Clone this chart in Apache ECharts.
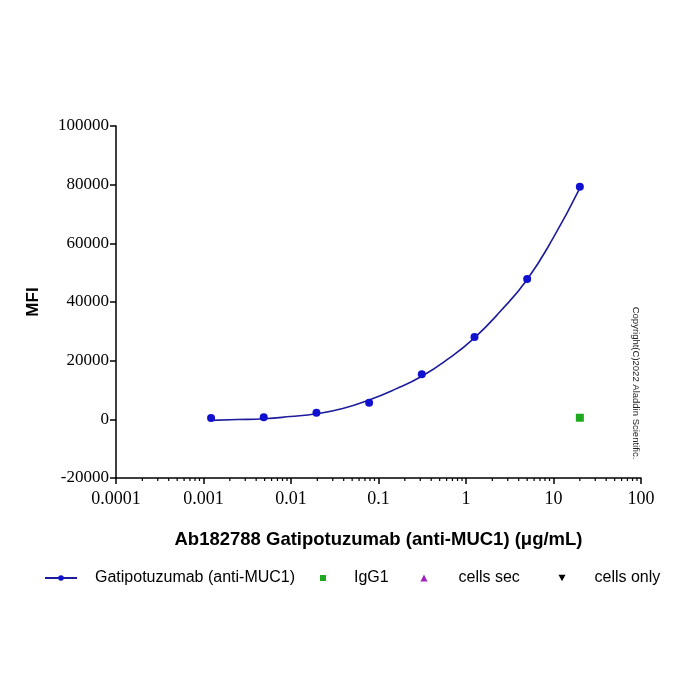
<!DOCTYPE html>
<html>
<head>
    <meta charset="UTF-8">
    <title>MFI binding curve</title>
    <script src="https://cdn.jsdelivr.net/npm/echarts@6/dist/echarts.min.js"></script>
    <style>
        html, body { margin: 0; padding: 0; background: #fff; }
    </style>
</head>
<body>
    <div id="main" style="width:700px;height:700px;"></div>
    <script type="text/javascript">
        // concentrations (ug/mL), 4-fold dilutions
        var conc = [0.00122, 0.00488, 0.01953, 0.07813, 0.3125, 1.25, 5, 20];
        // measured MFI
        var mfi = [450, 700, 2250, 5650, 15350, 28050, 47850, 79300];
        // fitted curve
        var fitX = [0.00122, 0.00244, 0.00488, 0.00977, 0.0195, 0.039, 0.078, 0.156, 0.3125, 0.625, 1.25, 2.5, 5, 10, 20];
        var fitY = [-350, -80, 200, 950, 1900, 3700, 6600, 10300, 14700, 20600, 27800, 37000, 47700, 62000, 78800];
        // control
        var igg1X = [20];
        var igg1Y = [550];
        var yTicks = [-20000, 0, 20000, 40000, 60000, 80000, 100000];

        // minor ticks for the log axis (2..9 in each decade)
        var minorTicks = [];
        for (var d = -4; d < 2; d++) {
            for (var m = 2; m < 10; m++) {
                minorTicks.push(m * Math.pow(10, d));
            }
        }

        function pairs(xs, ys) {
            var out = [];
            for (var i = 0; i < xs.length; i++) out.push([xs[i], ys[i]]);
            return out;
        }

        var legendText = { fontFamily: 'Liberation Sans', fontSize: 16, color: '#000' };

        var myChart = echarts.init(document.getElementById('main'));

        myChart.setOption({
            animation: false,
            backgroundColor: '#fff',
            grid: {
                left: 116,
                right: 59,
                top: 126,
                bottom: 222
            },
            xAxis: {
                type: 'log',
                logBase: 10,
                min: 0.0001,
                max: 100,
                name: 'Ab182788 Gatipotuzumab (anti-MUC1) (μg/mL)',
                nameLocation: 'middle',
                nameGap: 52,
                nameTextStyle: {
                    fontFamily: 'Liberation Sans',
                    fontWeight: 'bold',
                    fontSize: 18.5,
                    color: '#000'
                },
                axisLine: { onZero: false, lineStyle: { color: '#000', width: 1.5 } },
                axisTick: { length: 6, lineStyle: { color: '#000', width: 1.5 } },
                axisLabel: {
                    fontFamily: 'Liberation Serif',
                    fontSize: 18,
                    color: '#000',
                    margin: 12,
                    formatter: function (v) { return String(parseFloat(v.toPrecision(6))); }
                },
                splitLine: { show: false }
            },
            yAxis: {
                type: 'value',
                min: yTicks[0],
                max: yTicks[yTicks.length - 1],
                interval: 20000,
                name: 'MFI',
                nameLocation: 'middle',
                nameGap: 74,
                nameTextStyle: {
                    fontFamily: 'Liberation Sans',
                    fontWeight: 'bold',
                    fontSize: 17,
                    color: '#000'
                },
                axisLine: { show: true, lineStyle: { color: '#000', width: 1.5 } },
                axisTick: { show: true, length: 6, lineStyle: { color: '#000', width: 1.5 } },
                axisLabel: {
                    fontFamily: 'Liberation Serif',
                    fontSize: 17,
                    color: '#000',
                    margin: 7,
                    formatter: function (v) { return String(v); }
                },
                splitLine: { show: false }
            },
            legend: [
                {
                    left: 44, top: 570, padding: 0,
                    itemWidth: 32, itemHeight: 7,
                    data: ['Gatipotuzumab (anti-MUC1)'],
                    textStyle: Object.assign({ padding: [0, 0, 0, 13] }, legendText)
                },
                {
                    left: 320, top: 570, padding: 0,
                    itemWidth: 6, itemHeight: 6,
                    data: [{ name: 'IgG1', icon: 'rect' }],
                    textStyle: Object.assign({ padding: [0, 0, 0, 23] }, legendText)
                },
                {
                    left: 420.5, top: 570, padding: 0,
                    itemWidth: 7, itemHeight: 7,
                    data: [{ name: 'cells sec', icon: 'triangle' }],
                    textStyle: Object.assign({ padding: [0, 0, 0, 26] }, legendText)
                },
                {
                    left: 558.5, top: 570, padding: 0,
                    itemWidth: 7, itemHeight: 7,
                    data: [{ name: 'cells only', icon: 'path://M0,0L10,0L5,9Z' }],
                    textStyle: Object.assign({ padding: [0, 0, 0, 24] }, legendText)
                }
            ],
            graphic: [
                {
                    type: 'text',
                    x: 636,
                    y: 383,
                    rotation: -Math.PI / 2,
                    style: {
                        text: 'Copyright(C)2022 Aladdin Scientific.',
                        fontFamily: 'Liberation Sans',
                        fontSize: 9.5,
                        fill: '#222',
                        align: 'center',
                        verticalAlign: 'middle'
                    }
                }
            ],
            series: [
                {
                    name: 'Gatipotuzumab (anti-MUC1)',
                    type: 'line',
                    data: pairs(fitX, fitY),
                    smooth: 0.5,
                    showSymbol: false,
                    symbol: 'circle',
                    symbolSize: 7,
                    lineStyle: { color: '#1c1c9c', width: 1.6 },
                    itemStyle: { color: '#1010d0' },
                    z: 3
                },
                {
                    name: 'Gatipotuzumab (anti-MUC1)',
                    type: 'scatter',
                    data: pairs(conc, mfi),
                    symbol: 'circle',
                    symbolSize: 8,
                    itemStyle: { color: '#1010d0', opacity: 1 },
                    z: 4
                },
                {
                    name: 'IgG1',
                    type: 'scatter',
                    data: pairs(igg1X, igg1Y),
                    symbol: 'rect',
                    symbolSize: 8,
                    itemStyle: { color: '#1ea81e', opacity: 1 }
                },
                {
                    name: 'cells sec',
                    type: 'scatter',
                    data: [],
                    symbol: 'triangle',
                    itemStyle: { color: '#a020c0', opacity: 1 }
                },
                {
                    name: 'cells only',
                    type: 'scatter',
                    data: [],
                    symbol: 'path://M0,0L10,0L5,9Z',
                    itemStyle: { color: '#000', opacity: 1 }
                },
                {
                    // minor ticks on the log axis
                    type: 'custom',
                    silent: true,
                    clip: false,
                    data: minorTicks.map(function (v) { return [v, yTicks[0]]; }),
                    renderItem: function (params, api) {
                        var p = api.coord([api.value(0), api.value(1)]);
                        return {
                            type: 'line',
                            shape: { x1: p[0], y1: p[1], x2: p[0], y2: p[1] + 3 },
                            style: { stroke: '#000', lineWidth: 1.2 }
                        };
                    }
                }
            ]
        });
    </script>
</body>
</html>
